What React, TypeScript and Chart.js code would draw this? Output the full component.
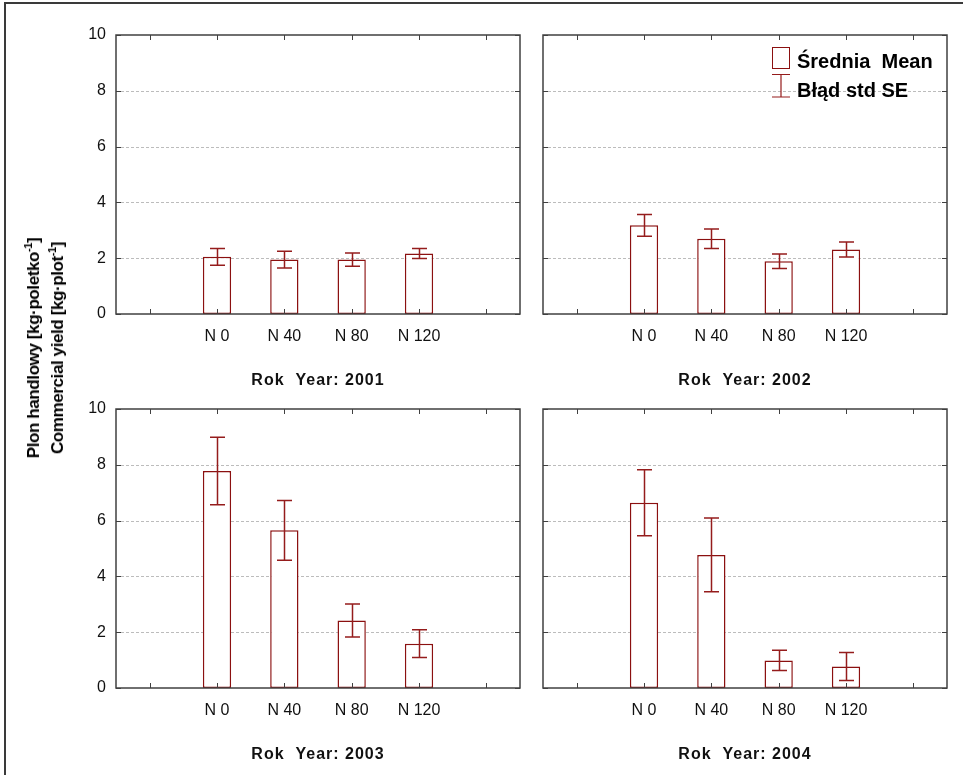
import React, { useEffect, useRef } from 'react';
import { Chart, registerables } from 'chart.js';

Chart.register(...registerables);

// ---------- data ----------
const categories = ['', 'N 0', 'N 40', 'N 80', 'N 120', ''];
const yTickValues = [0, 2, 4, 6, 8, 10];
const gridValues = [2, 4, 6, 8];

const mean2001 = [null, 2.05, 1.95, 1.95, 2.17, null];
const se2001 = [null, 0.3, 0.3, 0.24, 0.18, null];
const mean2002 = [null, 3.18, 2.7, 1.89, 2.31, null];
const se2002 = [null, 0.39, 0.35, 0.26, 0.27, null];
const mean2003 = [null, 7.78, 5.65, 2.42, 1.59, null];
const se2003 = [null, 1.21, 1.07, 0.59, 0.5, null];
const mean2004 = [null, 6.64, 4.77, 0.99, 0.77, null];
const se2004 = [null, 1.18, 1.32, 0.36, 0.5, null];

const panelTitles = ['Rok  Year: 2001', 'Rok  Year: 2002', 'Rok  Year: 2003', 'Rok  Year: 2004'];
const legendLabels = ['Średnia  Mean', 'Błąd std SE'];

// ---------- style ----------
const FONT = '"Liberation Sans", Arial, Helvetica, sans-serif';
const BAR_COLOR = '#8b1010';
const ERR_COLOR = '#951c1c';
const FRAME_COLOR = '#404040';
const GRID_COLOR = '#bcbcbc';

const PAD_TOP = 25;
const PAD_RIGHT = 10;
const Y_W = 50;
const X_H = 78;
const PLOT_W = 404;
const PLOT_H = 279;

type PanelProps = {
  mean: (number | null)[];
  se: (number | null)[];
  title: string;
  showYLabels: boolean;
  showLegend: boolean;
  plotLeft: number;
  plotTop: number;
};

function Panel({ mean, se, title, showYLabels, showLegend, plotLeft, plotTop }: PanelProps) {
  const ref = useRef<HTMLCanvasElement | null>(null);
  const width = Y_W + PLOT_W + PAD_RIGHT;
  const height = PAD_TOP + PLOT_H + X_H;

  useEffect(() => {
    if (!ref.current) return;
    const custom = {
      id: 'custom',
      beforeDatasetsDraw(chart: any) {
        const { ctx, chartArea: ca } = chart;
        const ys = chart.scales.y;
        ctx.save();
        ctx.strokeStyle = GRID_COLOR;
        ctx.lineWidth = 1;
        ctx.setLineDash([3, 2]);
        gridValues.forEach((v) => {
          const y = Math.round(ys.getPixelForValue(v)) + 0.5;
          ctx.beginPath();
          ctx.moveTo(ca.left, y);
          ctx.lineTo(ca.right, y);
          ctx.stroke();
        });
        ctx.restore();
      },
      afterDatasetsDraw(chart: any) {
        const { ctx, chartArea: ca } = chart;
        const xs = chart.scales.x;
        const ys = chart.scales.y;
        const meta = chart.getDatasetMeta(0);
        ctx.save();
        // error bars
        ctx.strokeStyle = ERR_COLOR;
        ctx.lineWidth = 1.5;
        mean.forEach((m, i) => {
          const s = se[i];
          if (m == null || s == null) return;
          const el = meta.data[i];
          const x = Math.round(el.x) + 0.5;
          const yT = ys.getPixelForValue(m + s);
          const yB = ys.getPixelForValue(m - s);
          ctx.beginPath();
          ctx.moveTo(x, yT);
          ctx.lineTo(x, yB);
          ctx.moveTo(x - 7.5, yT);
          ctx.lineTo(x + 7.5, yT);
          ctx.moveTo(x - 7.5, yB);
          ctx.lineTo(x + 7.5, yB);
          ctx.stroke();
        });
        // frame
        ctx.strokeStyle = FRAME_COLOR;
        ctx.lineWidth = 1.5;
        ctx.strokeRect(ca.left, ca.top, ca.right - ca.left, ca.bottom - ca.top);
        // inner tick marks
        ctx.lineWidth = 1;
        ctx.beginPath();
        categories.forEach((_, i) => {
          const x = Math.round(xs.getPixelForValue(i)) + 0.5;
          ctx.moveTo(x, ca.top);
          ctx.lineTo(x, ca.top + 5);
          ctx.moveTo(x, ca.bottom);
          ctx.lineTo(x, ca.bottom - 5);
        });
        yTickValues.forEach((v) => {
          const y = Math.round(ys.getPixelForValue(v)) + 0.5;
          ctx.moveTo(ca.left, y);
          ctx.lineTo(ca.left + 5, y);
          ctx.moveTo(ca.right, y);
          ctx.lineTo(ca.right - 5, y);
        });
        ctx.stroke();
        // panel title
        ctx.fillStyle = '#111';
        ctx.font = `bold 16px ${FONT}`;
        (ctx as any).letterSpacing = '1px';
        ctx.textAlign = 'center';
        ctx.textBaseline = 'middle';
        ctx.fillText(title, (ca.left + ca.right) / 2, ca.bottom + 67);
        (ctx as any).letterSpacing = '0px';
        // legend
        if (showLegend) {
          const bx = ca.right - 175;
          ctx.strokeStyle = BAR_COLOR;
          ctx.lineWidth = 1;
          ctx.strokeRect(bx + 0.5, ca.top + 12.5, 17, 21);
          ctx.strokeStyle = ERR_COLOR;
          ctx.lineWidth = 1.2;
          const ex = bx + 9;
          ctx.beginPath();
          ctx.moveTo(ex, ca.top + 39.5);
          ctx.lineTo(ex, ca.top + 62);
          ctx.moveTo(bx, ca.top + 39.5);
          ctx.lineTo(bx + 18, ca.top + 39.5);
          ctx.moveTo(bx, ca.top + 62);
          ctx.lineTo(bx + 18, ca.top + 62);
          ctx.stroke();
          ctx.fillStyle = '#000';
          ctx.font = `bold 20px ${FONT}`;
          ctx.textAlign = 'left';
          ctx.textBaseline = 'alphabetic';
          ctx.fillText(legendLabels[0], bx + 25, ca.top + 32.5);
          ctx.fillText(legendLabels[1], bx + 25, ca.top + 62);
        }
        ctx.restore();
      },
    };

    const chart = new Chart(ref.current, {
      type: 'bar',
      data: {
        labels: categories,
        datasets: [
          {
            data: mean as any,
            backgroundColor: '#ffffff',
            borderColor: BAR_COLOR,
            borderWidth: 1.5,
            borderSkipped: false,
            barPercentage: 0.42,
            categoryPercentage: 1,
          },
        ],
      },
      options: {
        animation: false,
        responsive: false,
        devicePixelRatio: 1,
        layout: { padding: { top: PAD_TOP, right: PAD_RIGHT, left: 0, bottom: 0 } },
        plugins: { legend: { display: false }, tooltip: { enabled: false } },
        scales: {
          x: {
            offset: true,
            grid: { display: false, drawTicks: false },
            border: { display: false },
            ticks: {
              font: { family: FONT, size: 16 },
              color: '#111',
              padding: 13,
              autoSkip: false,
              maxRotation: 0,
            },
            afterFit: (s: any) => {
              s.height = X_H;
            },
          },
          y: {
            min: 0,
            max: 10,
            afterBuildTicks: (s: any) => {
              s.ticks = yTickValues.map((v) => ({ value: v }));
            },
            grid: { display: false, drawTicks: false },
            border: { display: false },
            ticks: {
              display: showYLabels,
              font: { family: FONT, size: 16 },
              color: '#111',
              padding: 10,
            },
            afterFit: (s: any) => {
              s.width = Y_W;
            },
          },
        },
      },
      plugins: [custom],
    });
    return () => chart.destroy();
  }, []);

  return (
    <canvas
      ref={ref}
      width={width}
      height={height}
      style={{
        position: 'absolute',
        left: plotLeft - Y_W,
        top: plotTop - PAD_TOP,
        width,
        height,
      }}
    />
  );
}

export default function App() {
  return (
    <div
      style={{
        position: 'absolute',
        left: 0,
        top: 0,
        width: 963,
        height: 775,
        background: '#fff',
        overflow: 'hidden',
      }}
    >
      <div
        style={{
          position: 'absolute',
          left: 4,
          top: 2,
          width: 1000,
          height: 800,
          borderLeft: '2px solid #3a3a3a',
          borderTop: '2px solid #3a3a3a',
        }}
      />
      <Panel mean={mean2001} se={se2001} title={panelTitles[0]} showYLabels={true} showLegend={false} plotLeft={116} plotTop={35} />
      <Panel mean={mean2002} se={se2002} title={panelTitles[1]} showYLabels={false} showLegend={true} plotLeft={543} plotTop={35} />
      <Panel mean={mean2003} se={se2003} title={panelTitles[2]} showYLabels={true} showLegend={false} plotLeft={116} plotTop={409} />
      <Panel mean={mean2004} se={se2004} title={panelTitles[3]} showYLabels={false} showLegend={false} plotLeft={543} plotTop={409} />
      <div
        style={{
          position: 'absolute',
          left: 46,
          top: 348,
          transform: 'translate(-50%, -50%) rotate(-90deg)',
          fontFamily: FONT,
          fontWeight: 'bold',
          fontSize: 17,
          letterSpacing: '-0.4px',
          lineHeight: '24px',
          textAlign: 'center',
          whiteSpace: 'nowrap',
          color: '#000',
        }}
      >
        <div>
          Plon handlowy [kg·poletko<sup style={{ fontSize: 11, lineHeight: 0 }}>-1</sup>]
        </div>
        <div>
          Commercial yield [kg·plot<sup style={{ fontSize: 11, lineHeight: 0 }}>-1</sup>]
        </div>
      </div>
    </div>
  );
}
